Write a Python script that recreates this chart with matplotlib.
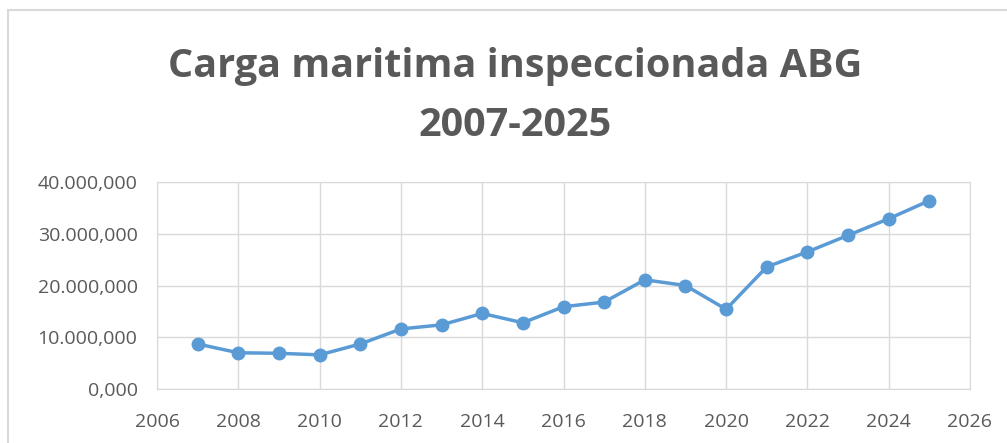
import matplotlib
matplotlib.use("Agg")
import matplotlib.pyplot as plt
from matplotlib.patches import Rectangle
from matplotlib.ticker import FuncFormatter

years = list(range(2007, 2026))
carga = [8.7e6, 7.0e6, 6.9e6, 6.6e6, 8.7e6, 11.6e6, 12.4e6, 14.6e6, 12.8e6, 15.9e6,
         16.8e6, 21.1e6, 20.0e6, 15.4e6, 23.6e6, 26.5e6, 29.7e6, 32.9e6, 36.4e6]
title_1 = "Carga maritima inspeccionada ABG"
title_2 = "2007-2025"

plt.rcParams['font.family'] = ['Open Sans', 'DejaVu Sans']

W, H = 1007, 443
fig = plt.figure(figsize=(W / 100, H / 100), dpi=100)
fig.patch.set_facecolor("white")

# chart frame (left and top edges visible, rest cut off)
fig.add_artist(Rectangle((8 / W, -0.1), 1.2, (H - 10) / H + 0.1, transform=fig.transFigure,
                         fill=False, edgecolor="#D9D9D9", linewidth=1.5))

ax = fig.add_axes([157 / W, 1 - 389 / H, (970 - 157) / W, (389 - 182) / H])
ax.plot(years, carga, color="#5B9BD5", linewidth=2.5, marker="o", markersize=9,
        markerfacecolor="#5B9BD5", markeredgecolor="#5B9BD5", zorder=3)

ax.set_xlim(2006, 2026)
ax.set_ylim(0, 40e6)
ax.set_xticks(range(2006, 2027, 2))
ax.set_yticks([0, 10e6, 20e6, 30e6, 40e6])


def fmt(v, pos):
    m = int(round(v / 1e6))
    if m == 0:
        return "0,000"
    return "%d.000,000" % m


ax.yaxis.set_major_formatter(FuncFormatter(fmt))
ax.grid(True, color="#D9D9D9", linewidth=1)
ax.set_axisbelow(True)
for s in ax.spines.values():
    s.set_color("#D9D9D9")
ax.tick_params(length=0, labelsize=14, colors="#595959")
ax.tick_params(axis="x", pad=17)
ax.tick_params(axis="y", pad=14)

fig.text(515 / W, 1 - 77 / H, title_1, ha="center", va="baseline", fontsize=28.5,
         fontweight="bold", color="#595959")
fig.text(515 / W, 1 - 136 / H, title_2, ha="center", va="baseline", fontsize=28.5,
         fontweight="bold", color="#595959")

fig.savefig("out.png", dpi=100)
